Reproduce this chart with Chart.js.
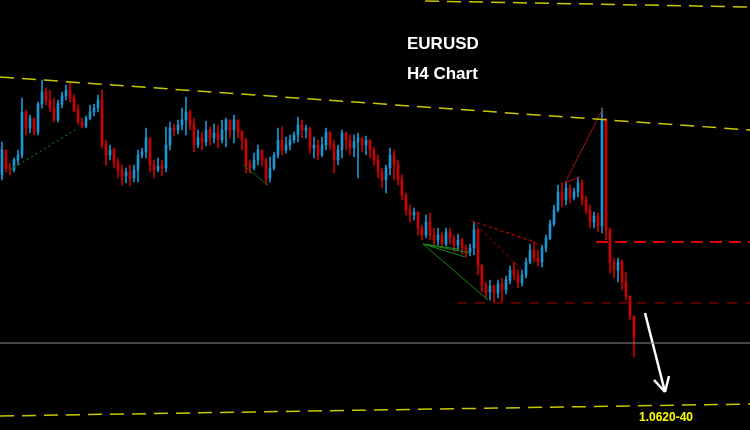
<!DOCTYPE html>
<html>
<head>
<meta charset="utf-8">
<script src="https://cdn.jsdelivr.net/npm/chart.js@4"></script>
<style>
  html, body { margin: 0; padding: 0; background: #000; }
  #wrap { width: 750px; height: 430px; }
</style>
</head>
<body>
<div id="wrap"><canvas id="chart" width="750" height="430"></canvas></div>
<script>
// EURUSD H4 candles (open = previous close)
const firstOpen = 1.0855;
const closes = [
  1.0880, 1.0862, 1.0860, 1.0870, 1.0875, 1.0918, 1.0902, 1.0912, 1.0898, 1.0926,
  1.0938, 1.0930, 1.0922, 1.0910, 1.0926, 1.0934, 1.0940, 1.0932, 1.0920, 1.0908,
  1.0904, 1.0912, 1.0918, 1.0922, 1.0930, 1.0885, 1.0875, 1.0880, 1.0868, 1.0860,
  1.0854, 1.0858, 1.0852, 1.0860, 1.0875, 1.0878, 1.0892, 1.0865, 1.0860, 1.0864,
  1.0862, 1.0885, 1.0902, 1.0900, 1.0905, 1.0910, 1.0918, 1.0905, 1.0885, 1.0892,
  1.0888, 1.0900, 1.0892, 1.0897, 1.0890, 1.0900, 1.0910, 1.0900, 1.0910, 1.0898,
  1.0890, 1.0865, 1.0862, 1.0870, 1.0880, 1.0870, 1.0852, 1.0862, 1.0875, 1.0890,
  1.0880, 1.0885, 1.0890, 1.0895, 1.0905, 1.0900, 1.0902, 1.0882, 1.0885, 1.0875,
  1.0885, 1.0898, 1.0885, 1.0870, 1.0880, 1.0897, 1.0890, 1.0882, 1.0888, 1.0892,
  1.0885, 1.0890, 1.0880, 1.0870, 1.0858, 1.0850, 1.0862, 1.0875, 1.0865, 1.0850,
  1.0835, 1.0820, 1.0815, 1.0818, 1.0802, 1.0795, 1.0808, 1.0795, 1.0790, 1.0795,
  1.0786, 1.0798, 1.0792, 1.0785, 1.0790, 1.0782, 1.0778, 1.0782, 1.0800, 1.0765,
  1.0745, 1.0738, 1.0744, 1.0737, 1.0746, 1.0740, 1.0750, 1.0760, 1.0755, 1.0747,
  1.0755, 1.0768, 1.0780, 1.0772, 1.0768, 1.0782, 1.0792, 1.0806, 1.0820, 1.0838,
  1.0830, 1.0842, 1.0832, 1.0838, 1.0847, 1.0830, 1.0820, 1.0808, 1.0814, 1.0804,
  1.0910, 1.0800, 1.0768, 1.0760, 1.0768, 1.0748, 1.0734, 1.0714, 1.0693
];
const highs = [
  1.0888, 1.0870, 1.0867, 1.0872, 1.0880, 1.0932, 1.0920, 1.0915, 1.0912, 1.0928,
  1.0950, 1.0942, 1.0940, 1.0932, 1.0930, 1.0938, 1.0945, 1.0947, 1.0935, 1.0925,
  1.0912, 1.0914, 1.0925, 1.0926, 1.0935, 1.0940, 1.0890, 1.0885, 1.0882, 1.0872,
  1.0865, 1.0862, 1.0865, 1.0865, 1.0880, 1.0882, 1.0902, 1.0887, 1.0870, 1.0872,
  1.0870, 1.0903, 1.0908, 1.0906, 1.0910, 1.0922, 1.0933, 1.0920, 1.0912, 1.0900,
  1.0898, 1.0909, 1.0903, 1.0906, 1.0905, 1.0910, 1.0912, 1.0905, 1.0915, 1.0905,
  1.0900, 1.0892, 1.0870, 1.0877, 1.0885, 1.0880, 1.0872, 1.0873, 1.0878, 1.0902,
  1.0903, 1.0893, 1.0895, 1.0898, 1.0913, 1.0910, 1.0905, 1.0903, 1.0893, 1.0890,
  1.0893, 1.0902, 1.0895, 1.0890, 1.0885, 1.0900, 1.0898, 1.0895, 1.0895, 1.0897,
  1.0892, 1.0894, 1.0890, 1.0883, 1.0875, 1.0862, 1.0865, 1.0882, 1.0880, 1.0870,
  1.0855, 1.0837, 1.0825, 1.0822, 1.0818, 1.0805, 1.0815, 1.0817, 1.0802, 1.0802,
  1.0798, 1.0802, 1.0802, 1.0795, 1.0796, 1.0792, 1.0785, 1.0786, 1.0808, 1.0802,
  1.0762, 1.0748, 1.0750, 1.0745, 1.0750, 1.0752, 1.0754, 1.0764, 1.0768, 1.0760,
  1.0760, 1.0772, 1.0786, 1.0788, 1.0780, 1.0785, 1.0795, 1.0810, 1.0825, 1.0845,
  1.0847, 1.0848, 1.0845, 1.0842, 1.0853, 1.0850, 1.0834, 1.0825, 1.0818, 1.0817,
  1.0922, 1.0912, 1.0802, 1.0772, 1.0772, 1.0770, 1.0758, 1.0734, 1.0712
];
const lows = [
  1.0850, 1.0858, 1.0855, 1.0858, 1.0865, 1.0872, 1.0895, 1.0897, 1.0895, 1.0895,
  1.0922, 1.0925, 1.0918, 1.0908, 1.0908, 1.0922, 1.0930, 1.0928, 1.0918, 1.0905,
  1.0902, 1.0902, 1.0910, 1.0914, 1.0918, 1.0882, 1.0865, 1.0870, 1.0862, 1.0852,
  1.0845, 1.0847, 1.0844, 1.0848, 1.0848, 1.0872, 1.0872, 1.0858, 1.0852, 1.0858,
  1.0854, 1.0858, 1.0880, 1.0894, 1.0896, 1.0900, 1.0895, 1.0900, 1.0878, 1.0882,
  1.0880, 1.0884, 1.0885, 1.0887, 1.0882, 1.0887, 1.0883, 1.0892, 1.0887, 1.0892,
  1.0880, 1.0857, 1.0857, 1.0860, 1.0865, 1.0864, 1.0845, 1.0848, 1.0860, 1.0872,
  1.0875, 1.0877, 1.0880, 1.0887, 1.0888, 1.0892, 1.0892, 1.0877, 1.0872, 1.0870,
  1.0873, 1.0880, 1.0880, 1.0857, 1.0865, 1.0872, 1.0880, 1.0875, 1.0873, 1.0852,
  1.0878, 1.0875, 1.0872, 1.0865, 1.0852, 1.0842, 1.0837, 1.0855, 1.0850, 1.0845,
  1.0830, 1.0815, 1.0808, 1.0810, 1.0795, 1.0790, 1.0792, 1.0790, 1.0784, 1.0785,
  1.0782, 1.0784, 1.0786, 1.0778, 1.0780, 1.0776, 1.0773, 1.0774, 1.0775, 1.0755,
  1.0738, 1.0732, 1.0730, 1.0728, 1.0732, 1.0728, 1.0736, 1.0746, 1.0750, 1.0742,
  1.0744, 1.0752, 1.0766, 1.0768, 1.0764, 1.0763, 1.0778, 1.0790, 1.0804, 1.0818,
  1.0823, 1.0825, 1.0827, 1.0830, 1.0833, 1.0825, 1.0816, 1.0802, 1.0802, 1.0798,
  1.0797, 1.0790, 1.0757, 1.0752, 1.0748, 1.0740, 1.0730, 1.0710, 1.0673
];

// drawn objects: [bar index, price] end points
const channelTop = [[105.75, 1.1029], [187, 1.1023]];
const channelMid = [[-0.5, 1.0953], [187, 1.0900]];
const channelLow = [[-0.5, 1.0614], [187, 1.0626]];
const greenDotted = [[2, 1.0860], [19, 1.0902]];
const greenSolid = [[60.25, 1.0865], [66.5, 1.0845]];
const greenFan = [[105.25, 1.0786], [115.75, 1.0773], [117, 1.0777], [114, 1.0781], [121.5, 1.0730]];
const redFan = [[117.5, 1.0809], [135, 1.0785], [132.75, 1.0789], [130, 1.0760]];
const redSpike = [[140.75, 1.0847], [150.25, 1.0922], [144.5, 1.0853]];
const resistLevel = 1.0788, resistFrom = 148.5;
const supportLevel = 1.0727, supportFrom = 113.75;
const priceLine = 1.0687;
const arrowPts = [[160.75, 1.0717], [165.75, 1.0638], [163, 1.0650], [166.75, 1.0654]];
const targetLabel = "1.0620-40";
const targetAt = [166, 1.0612];

const xMin = -0.5, xMax = 187, yMin = 1.0600, yMax = 1.1030;
const upColor = "#1a96d2";
const downColor = "#cc0000";

const opens = closes.map((c, i) => (i === 0 ? firstOpen : closes[i - 1]));
const candleColors = closes.map((c, i) => (c >= opens[i] ? upColor : downColor));

function seg(a, b, color, width, dash) {
  return {
    type: "line",
    data: [{ x: a[0], y: a[1] }, { x: b[0], y: b[1] }],
    borderColor: color,
    borderWidth: width,
    borderDash: dash || [],
    pointRadius: 0,
    fill: false,
    order: 1
  };
}

const datasets = [
  {
    type: "bar",
    data: closes.map((c, i) => ({ x: i, y: [Math.min(lows[i], opens[i], c), Math.max(highs[i], opens[i], c)] })),
    backgroundColor: candleColors,
    barThickness: 1,
    grouped: false,
    order: 10
  },
  {
    type: "bar",
    data: closes.map((c, i) => ({ x: i, y: [opens[i], c] })),
    backgroundColor: candleColors,
    barThickness: 2,
    minBarLength: 1,
    grouped: false,
    order: 9
  },
  seg(channelTop[0], channelTop[1], "#c8c800", 1.5, [14, 8]),
  seg(channelMid[0], channelMid[1], "#c8c800", 1.5, [14, 8]),
  seg(channelLow[0], channelLow[1], "#c8c800", 1.5, [14, 8]),
  seg(greenDotted[0], greenDotted[1], "#0a5a0a", 1.5, [2, 3]),
  seg(greenSolid[0], greenSolid[1], "#0c6a0c", 1),
  seg([xMin, priceLine], [xMax, priceLine], "#8a8a8a", 1),
  seg([resistFrom, resistLevel], [xMax, resistLevel], "#e00000", 2, [12, 7]),
  seg([supportFrom, supportLevel], [xMax, supportLevel], "#b00000", 1, [10, 8]),
  seg(redSpike[0], redSpike[1], "#b01010", 1),
  seg(redSpike[0], redSpike[2], "#b01010", 1),
  seg(arrowPts[0], arrowPts[1], "#ffffff", 2.5),
  seg(arrowPts[2], arrowPts[1], "#ffffff", 2.5),
  seg(arrowPts[3], arrowPts[1], "#ffffff", 2.5)
];
greenFan.slice(1).forEach(p => datasets.push(seg(greenFan[0], p, "#138a13", 1)));
redFan.slice(1).forEach(p => datasets.push(seg(redFan[0], p, "#b00000", 1, [3, 3])));

const chartText = {
  id: "chartText",
  beforeDraw(chart) {
    const ctx = chart.ctx;
    ctx.save();
    ctx.fillStyle = "#000";
    ctx.fillRect(0, 0, chart.width, chart.height);
    ctx.restore();
  },
  afterDraw(chart) {
    const ctx = chart.ctx;
    const xs = chart.scales.x, ys = chart.scales.y;
    ctx.save();
    ctx.fillStyle = "#ffffff";
    ctx.font = "bold 17px 'Liberation Sans', Arial, sans-serif";
    ctx.textBaseline = "alphabetic";
    ctx.fillText("EURUSD", 407, 49);
    ctx.fillText("H4 Chart", 407, 79);
    ctx.fillStyle = "#ffff00";
    ctx.font = "bold 12px 'Liberation Sans', Arial, sans-serif";
    ctx.textAlign = "center";
    ctx.textBaseline = "middle";
    ctx.fillText(targetLabel, xs.getPixelForValue(targetAt[0]), ys.getPixelForValue(targetAt[1]));
    ctx.restore();
  }
};

new Chart(document.getElementById("chart"), {
  data: { datasets },
  options: {
    responsive: false,
    animation: false,
    devicePixelRatio: 1,
    layout: { padding: 0 },
    plugins: { legend: { display: false }, tooltip: { enabled: false } },
    scales: {
      x: { type: "linear", min: xMin, max: xMax, offset: false, display: false },
      y: { min: yMin, max: yMax, offset: false, display: false }
    }
  },
  plugins: [chartText]
});
</script>
</body>
</html>
